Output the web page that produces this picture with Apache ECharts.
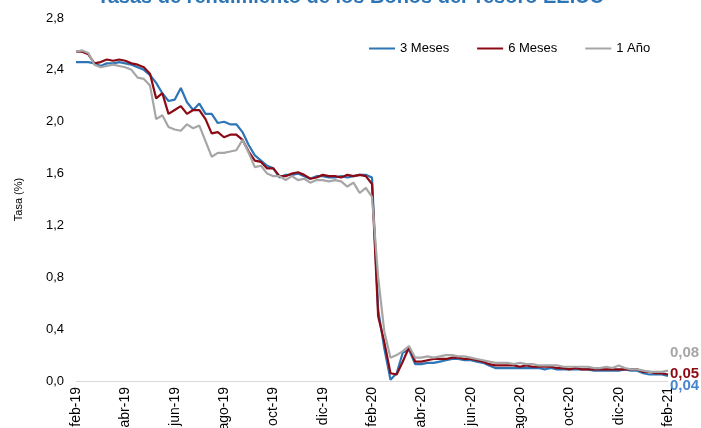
<!DOCTYPE html>
<html>
<head>
<meta charset="utf-8">
<script src="https://cdn.jsdelivr.net/npm/echarts@6/dist/echarts.min.js"></script>
<style>
  html, body { margin: 0; padding: 0; background: #fff; }
  #chart { width: 701px; height: 428px; }
</style>
</head>
<body>
<div id="chart"></div>
<script>
// month labels, one every 8 weekly points
const monthLabels = ['feb-19', 'abr-19', 'jun-19', 'ago-19', 'oct-19', 'dic-19', 'feb-20',
  'abr-20', 'jun-20', 'ago-20', 'oct-20', 'dic-20', 'feb-21'];

const tres = [2.46, 2.46, 2.46, 2.45, 2.43, 2.45, 2.45, 2.46, 2.45, 2.44, 2.42, 2.40, 2.36, 2.30, 2.22, 2.16,
  2.17, 2.26, 2.15, 2.09, 2.14, 2.06, 2.06, 1.99, 2.00, 1.98, 1.98, 1.92, 1.82, 1.74, 1.70, 1.66,
  1.64, 1.57, 1.59, 1.59, 1.60, 1.58, 1.56, 1.58, 1.58, 1.57, 1.57, 1.58, 1.57, 1.58, 1.59, 1.59,
  1.57, 0.55, 0.25, 0.01, 0.06, 0.22, 0.24, 0.13, 0.13, 0.14, 0.14, 0.15, 0.16, 0.17, 0.17, 0.16,
  0.16, 0.15, 0.14, 0.12, 0.10, 0.10, 0.10, 0.10, 0.10, 0.10, 0.10, 0.10, 0.09, 0.10, 0.09, 0.09,
  0.09, 0.09, 0.09, 0.09, 0.08, 0.08, 0.08, 0.08, 0.08, 0.09, 0.08, 0.08, 0.06, 0.05, 0.05, 0.05, 0.04];

const seis = [2.54, 2.54, 2.52, 2.45, 2.46, 2.48, 2.47, 2.48, 2.47, 2.45, 2.44, 2.42, 2.37, 2.18, 2.22, 2.06,
  2.09, 2.12, 2.06, 2.09, 2.09, 2.02, 1.91, 1.92, 1.88, 1.90, 1.90, 1.86, 1.77, 1.70, 1.69, 1.64,
  1.64, 1.58, 1.58, 1.60, 1.61, 1.59, 1.56, 1.57, 1.59, 1.58, 1.58, 1.57, 1.59, 1.58, 1.59, 1.58,
  1.52, 0.50, 0.30, 0.06, 0.05, 0.15, 0.26, 0.15, 0.15, 0.16, 0.17, 0.17, 0.17, 0.18, 0.18, 0.17,
  0.17, 0.16, 0.15, 0.13, 0.12, 0.12, 0.12, 0.12, 0.11, 0.12, 0.11, 0.11, 0.11, 0.11, 0.10, 0.10,
  0.09, 0.10, 0.09, 0.09, 0.09, 0.09, 0.09, 0.09, 0.09, 0.09, 0.09, 0.09, 0.07, 0.07, 0.06, 0.06, 0.05];

const unAno = [2.54, 2.55, 2.53, 2.44, 2.42, 2.43, 2.44, 2.43, 2.42, 2.40, 2.34, 2.33, 2.28, 2.02, 2.05, 1.96,
  1.94, 1.93, 1.98, 1.95, 1.97, 1.85, 1.73, 1.76, 1.76, 1.77, 1.78, 1.86, 1.76, 1.65, 1.66, 1.60,
  1.58, 1.58, 1.55, 1.58, 1.55, 1.56, 1.53, 1.55, 1.55, 1.54, 1.55, 1.54, 1.50, 1.53, 1.45, 1.49,
  1.42, 0.80, 0.38, 0.18, 0.20, 0.23, 0.27, 0.18, 0.18, 0.19, 0.18, 0.19, 0.20, 0.20, 0.19, 0.19,
  0.18, 0.17, 0.16, 0.15, 0.14, 0.14, 0.14, 0.13, 0.14, 0.13, 0.13, 0.12, 0.12, 0.12, 0.12, 0.11,
  0.11, 0.11, 0.11, 0.11, 0.10, 0.10, 0.11, 0.10, 0.12, 0.10, 0.09, 0.09, 0.08, 0.07, 0.07, 0.07, 0.08];

const categories = tres.map((v, i) => (i % 8 === 0 ? monthLabels[i / 8] : ''));

const fmt = v => v.toFixed(2).replace('.', ',');

function endLabel(color, dy) {
  return {
    show: true, distance: 2, offset: [0, dy],
    formatter: p => fmt(p.value), color: color, fontWeight: 'bold', fontSize: 15,
    fontFamily: 'Liberation Sans'
  };
}

const chart = echarts.init(document.getElementById('chart'));
chart.setOption({
  animation: false,
  textStyle: { fontFamily: 'Liberation Sans' },
  title: {
    text: 'Tasas de rendimiento de los Bonos del Tesoro EE.UU',
    left: 'center', top: -18,
    textStyle: { color: '#2E75B6', fontSize: 20, fontWeight: 'bold', fontFamily: 'Liberation Sans' }
  },
  legend: {
    left: 364, top: 37, itemWidth: 26, itemHeight: 2, itemGap: 28,
    icon: 'rect',
    textStyle: { fontSize: 13, color: '#000' },
    data: ['3 Meses', '6 Meses', '1 Año']
  },
  grid: { left: 76, right: 33, top: 18, bottom: 47, outerBoundsMode: 'none' },
  xAxis: {
    type: 'category', data: categories, boundaryGap: false,
    axisLine: { lineStyle: { color: '#D9D9D9' } },
    axisTick: { show: false },
    axisLabel: { rotate: 90, interval: 7, fontSize: 14, color: '#000', margin: 6 }
  },
  yAxis: {
    type: 'value', min: 0, max: 2.8, interval: 0.4,
    name: 'Tasa (%)', nameLocation: 'middle', nameGap: 52,
    nameTextStyle: { fontSize: 11, color: '#000' },
    splitLine: { show: false },
    axisLine: { show: false },
    axisLabel: { fontSize: 13, color: '#000', margin: 12, formatter: v => v.toFixed(1).replace('.', ',') }
  },
  series: [
    { name: '3 Meses', type: 'line', data: tres, symbol: 'none', endLabel: endLabel('#4A86D0', 10),
      lineStyle: { color: '#2E75B6', width: 2.2 }, itemStyle: { color: '#2E75B6' } },
    { name: '6 Meses', type: 'line', data: seis, symbol: 'none', endLabel: endLabel('#8B0A14', -1),
      lineStyle: { color: '#8B0A14', width: 2.2 }, itemStyle: { color: '#8B0A14' } },
    { name: '1 Año', type: 'line', data: unAno, symbol: 'none', endLabel: endLabel('#A6A6A6', -18),
      lineStyle: { color: '#A6A6A6', width: 2.2 }, itemStyle: { color: '#A6A6A6' } }
  ]
});
</script>
</body>
</html>
